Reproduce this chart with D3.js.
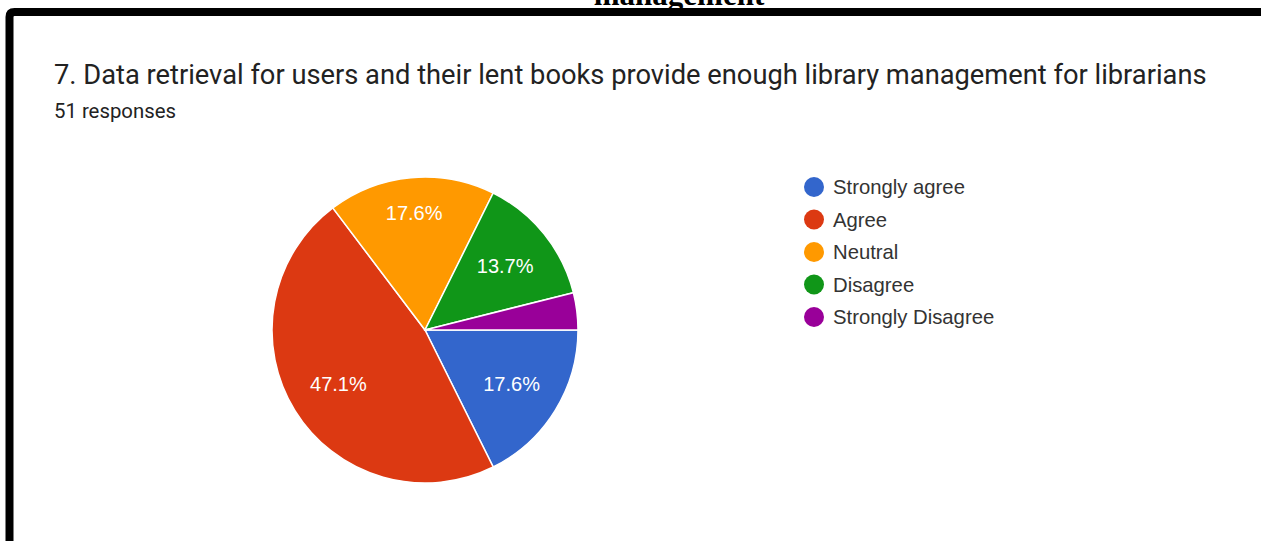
<!DOCTYPE html>
<html>
<head>
<meta charset="utf-8">
<script src="https://cdn.jsdelivr.net/npm/d3@7"></script>
<style>
  html, body { margin: 0; padding: 0; background: #fff; }
  svg { display: block; }
</style>
</head>
<body>
<svg id="chart" width="1261" height="541"></svg>
<script>
// Survey question 7 responses
const categories = ["Strongly agree", "Agree", "Neutral", "Disagree", "Strongly Disagree"];
const counts = [9, 24, 9, 7, 2];
const colors = ["#3366cc", "#dc3912", "#ff9900", "#109618", "#990099"];
const questionTitle = "7. Data retrieval for users and their lent books provide enough library management for librarians";
const responseNote = "51 responses";
const headingTail = "management";

const svg = d3.select("#chart");
const W = 1261, H = 541;

// scale a text element's font so it spans a given width
function fitWidth(sel, target) {
  const node = sel.node();
  const fs = parseFloat(sel.attr("font-size"));
  const w = node.getComputedTextLength();
  sel.attr("font-size", (fs * target / w).toFixed(2));
}

// trailing word of the document heading above the frame
svg.append("text")
  .attr("x", 679).attr("y", 5)
  .attr("text-anchor", "middle")
  .attr("font-family", "'Liberation Serif', 'Times New Roman', serif")
  .attr("font-weight", "bold")
  .attr("font-size", 31)
  .attr("fill", "#000")
  .text(headingTail);

// frame (top and left edges)
svg.append("path")
  .attr("d", `M9.5,${H} V17 Q9.5,12 14.5,12 H${W}`)
  .attr("fill", "none")
  .attr("stroke", "#000")
  .attr("stroke-width", 8);

// title and response count
const title = svg.append("text")
  .attr("x", 54).attr("y", 84)
  .attr("font-family", "Roboto, Arial, sans-serif")
  .attr("font-size", 23)
  .attr("fill", "#222")
  .text(questionTitle);
fitWidth(title, 1153);

const note = svg.append("text")
  .attr("x", 54).attr("y", 118)
  .attr("font-family", "Roboto, Arial, sans-serif")
  .attr("font-size", 17)
  .attr("fill", "#222")
  .text(responseNote);
fitWidth(note, 122);

// pie
const cx = 425, cy = 330, r = 153;
const total = d3.sum(counts);
const data = categories.map((c, i) => ({ name: c, value: counts[i], color: colors[i] }));

const pie = d3.pie()
  .sort(null)
  .value(d => d.value)
  .startAngle(Math.PI / 2)
  .endAngle(Math.PI / 2 + 2 * Math.PI);

const arc = d3.arc().innerRadius(0).outerRadius(r);

const g = svg.append("g").attr("transform", `translate(${cx},${cy})`);
const arcs = pie(data);

g.selectAll("path.slice")
  .data(arcs)
  .join("path")
  .attr("class", "slice")
  .attr("d", arc)
  .attr("fill", d => d.data.color)
  .attr("stroke", "#fff")
  .attr("stroke-width", 1.5);

// percentage labels: pushed out along the bisector until the far corner
// of the text box reaches a fixed reach inside the pie
const labelFont = 20, capH = 0.716 * labelFont, reach = r * 0.85;
const pct = d3.format(".1%");
const labels = g.selectAll("text.pct")
  .data(arcs.filter(d => d.value / total >= 0.05))
  .join("text")
  .attr("class", "pct")
  .attr("text-anchor", "middle")
  .attr("dy", "0.36em")
  .attr("font-family", "'Liberation Sans', Arial, sans-serif")
  .attr("font-size", labelFont)
  .attr("fill", "#fff")
  .text(d => pct(d.value / total));

labels.each(function(d) {
  const w = this.getComputedTextLength();
  const a = (d.startAngle + d.endAngle) / 2;
  const ux = Math.sin(a), uy = -Math.cos(a);
  const far = t => {
    let m = 0;
    for (const sx of [-1, 1]) for (const sy of [-1, 1]) {
      m = Math.max(m, Math.hypot(t * ux + sx * w / 2, t * uy + sy * capH / 2));
    }
    return m;
  };
  let lo = 0, hi = reach;
  for (let k = 0; k < 40; k++) {
    const mid = (lo + hi) / 2;
    if (far(mid) < reach) lo = mid; else hi = mid;
  }
  d3.select(this).attr("transform", `translate(${lo * ux},${lo * uy})`);
});

// legend
const legendX = 814, legendY = 187, rowH = 32.5;
const legend = svg.append("g");
const rows = legend.selectAll("g")
  .data(data)
  .join("g")
  .attr("transform", (d, i) => `translate(${legendX},${legendY + i * rowH})`);

rows.append("circle")
  .attr("r", 10)
  .attr("fill", d => d.color);

rows.append("text")
  .attr("x", 19)
  .attr("dy", "0.36em")
  .attr("font-family", "'Liberation Sans', Arial, sans-serif")
  .attr("font-size", 20.3)
  .attr("fill", "#333")
  .text(d => d.name);
</script>
</body>
</html>
